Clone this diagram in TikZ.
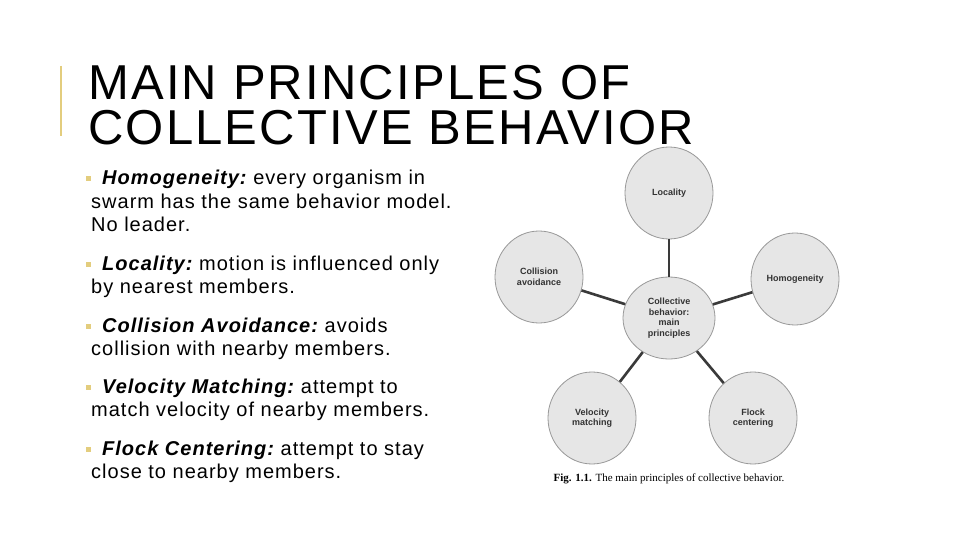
\documentclass[tikz,border=0pt]{standalone}
\usepackage{fontspec}
\setmainfont{Liberation Sans}
\newfontfamily\capfont{Liberation Serif}
\newfontfamily\titlefont[LetterSpace=4.5]{Liberation Sans}
\newfontfamily\bodyfont[LetterSpace=5]{Liberation Sans}
\definecolor{goldbar}{HTML}{E3CD7E}
\definecolor{cfill}{HTML}{E6E6E6}
\definecolor{cline}{HTML}{3A3A3A}
\tikzset{
  bul/.style={anchor=base west,inner sep=0pt,font=\bodyfont\fontsize{20}{23.5}\selectfont},
  circ/.style={ellipse,draw=gray!80,fill=cfill,line width=0.8pt,minimum width=88pt,minimum height=92pt,inner sep=0pt,align=center,font=\fontsize{9}{10.5}\selectfont\bfseries,text=black!80},
  conn/.style={draw=cline,line width=2.6pt},
  sq/.style={fill=goldbar,minimum size=5pt,inner sep=0pt}
}
\usetikzlibrary{shapes.geometric}
\begin{document}
\begin{tikzpicture}[x=1pt,y=-1pt]
\useasboundingbox (0,0) rectangle (960,540);
\fill[white] (0,0) rectangle (960,540);
\draw[goldbar,line width=2.5pt] (61,66) -- (61,136);
\node[anchor=base west,inner sep=0pt,font=\titlefont\fontsize{49}{50}\selectfont] (t1) at (88,100) {MAIN PRINCIPLES OF};
\node[anchor=base west,inner sep=0pt,font=\titlefont\fontsize{49}{50}\selectfont] (t2) at (88,145) {COLLECTIVE BEHAVIOR};
\node[sq] (s1) at (88,179) {};
\node[bul] (b1) at (102,185) {\textbf{\textit{Homogeneity:}}\hspace{-3pt} every organism in};
\node[bul] (b1b) at (91,208) {swarm has the same behavior model.};
\node[bul] (b1c) at (91,231) {No leader.};
\node[sq] (s2) at (88,264) {};
\node[bul] (b2) at (102,270) {\textbf{\textit{Locality:}}\hspace{-3pt} motion is influenced only};
\node[bul] (b2b) at (91,293) {by nearest members.};
\node[sq] (s3) at (88,326) {};
\node[bul] (b3) at (102,332) {\textbf{\textit{Collision Avoidance:}}\hspace{-3pt} avoids};
\node[bul] (b3b) at (91,355) {collision with nearby members.};
\node[sq] (s4) at (88,387) {};
\node[bul] (b4) at (102,393) {\textbf{\textit{Velocity Matching:}}\hspace{-3pt} attempt to};
\node[bul] (b4b) at (91,416) {match velocity of nearby members.};
\node[sq] (s5) at (88,449) {};
\node[bul] (b5) at (102,455) {\textbf{\textit{Flock Centering:}}\hspace{-3pt} attempt to stay};
\node[bul] (b5b) at (91,478) {close to nearby members.};
\node[circ,minimum width=92pt,minimum height=82pt] (c) at (669,318) {Collective\\behavior:\\main\\principles};
\node[circ] (loc) at (669,193) {Locality};
\node[circ] (col) at (539,277) {Collision\\avoidance};
\node[circ] (hom) at (795,279) {Homogeneity};
\node[circ] (vel) at (592,418) {Velocity\\matching};
\node[circ] (flo) at (753,418) {Flock\\centering};
\draw[conn] (c) -- (loc);
\draw[conn] (c) -- (col);
\draw[conn] (c) -- (hom);
\draw[conn] (c) -- (vel);
\draw[conn] (c) -- (flo);
\node[font=\capfont\fontsize{11}{12}\selectfont,inner sep=0pt] (cap) at (669,479) {\textbf{Fig. 1.1.} The main principles of collective behavior.};
\end{tikzpicture}
\end{document}
